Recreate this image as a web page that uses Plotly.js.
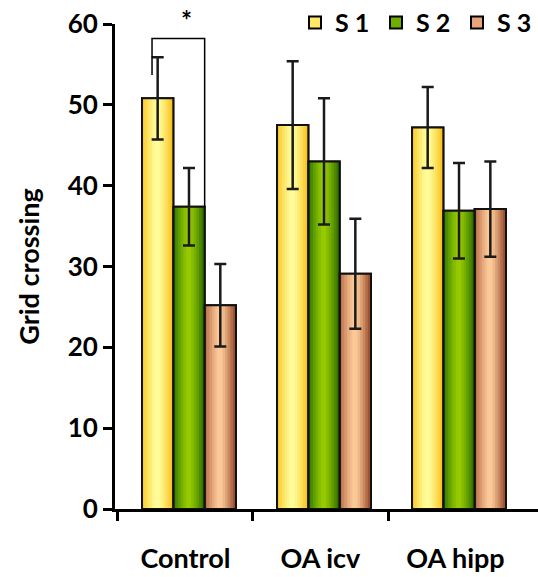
<!DOCTYPE html>
<html>
<head>
<meta charset="utf-8">
<script src="https://cdn.plot.ly/plotly-3.0.1.min.js"></script>
<style>html,body{margin:0;padding:0;background:#fff;}#chart{width:538px;height:577px;}</style>
</head>
<body>
<div id="chart"></div>
<script>
// ---- data ----
const categories = ['Control', 'OA icv', 'OA hipp'];
const seriesNames = ['S 1', 'S 2', 'S 3'];
const s1 = [50.8, 47.5, 47.2];
const s1err = [5.1, 7.9, 5.0];
const s2 = [37.4, 43.0, 36.9];
const s2err = [4.8, 7.8, 5.9];
const s3 = [25.2, 29.1, 37.1];
const s3err = [5.1, 6.8, 5.9];
const yTicks = [0, 10, 20, 30, 40, 50, 60];

// ---- styling ----
const FONT = 'Lato, "Open Sans", sans-serif';
const values = [s1, s2, s3];
const errors = [s1err, s2err, s3err];
// gradient: left edge, center, right edge
const grads = [
  [[250, 196, 30], [255, 255, 160], [250, 188, 20]],
  [[40, 112, 0], [155, 206, 0], [40, 105, 0]],
  [[180, 100, 65], [255, 206, 156], [145, 65, 35]]
];
const legendColors = ['#FFE866', '#6FAE00', '#E8A57A'];
const W = 0.232;
const offsets = [-0.322, -0.09, 0.142];
const N = 12;
const xIdx = categories.map((c, i) => i);

function mix(a, b, t) {
  return 'rgb(' + a.map((v, k) => Math.round(v + (b[k] - v) * t)).join(',') + ')';
}

const traces = [];
for (let s = 0; s < 3; s++) {
  traces.push({
    type: 'bar', x: xIdx, y: values[s], name: seriesNames[s],
    width: W, offset: offsets[s],
    marker: {color: legendColors[s], line: {color: '#000', width: 2}},
    hoverinfo: 'skip'
  });
}
for (let s = 0; s < 3; s++) {
  const [L, C, R] = grads[s];
  for (let i = 0; i < N; i++) {
    const t = (i + 0.5) / N;
    let col;
    if (t < 0.5) col = mix(C, L, Math.pow((0.5 - t) * 2, 1.3));
    else col = mix(C, R, Math.pow((t - 0.5) * 2, 1.3));
    traces.push({
      type: 'bar', x: xIdx, y: values[s], showlegend: false,
      width: W / N, offset: offsets[s] + i * W / N,
      marker: {color: col, line: {color: col, width: 0.8}},
      hoverinfo: 'skip'
    });
  }
}
for (let s = 0; s < 3; s++) {
  traces.push({
    type: 'bar', x: xIdx, y: values[s], showlegend: false,
    width: W, offset: offsets[s],
    marker: {color: 'rgba(0,0,0,0)', line: {color: '#111', width: 2}},
    error_y: {type: 'data', array: errors[s], visible: true, color: '#1a1a1a', thickness: 2.5, width: 6},
    hoverinfo: 'skip'
  });
}

// significance bracket between Control S1 and Control S2
const leftLegX = xIdx[0] + offsets[0] + W * 0.32;
const rightLegX = xIdx[0] + offsets[1] + W;
const bracketTop = 58.2;
const leftLegBottom = 53.7;

const layout = {
  width: 538, height: 577,
  margin: {l: 115, r: 0, t: 24, b: 68, autoexpand: false},
  paper_bgcolor: '#fff', plot_bgcolor: '#fff',
  barmode: 'overlay',
  showlegend: true,
  legend: {
    orientation: 'h', x: 1, y: 1.05, xanchor: 'right', yanchor: 'top',
    font: {family: FONT, size: 25, color: '#000', weight: 'bold'},
    itemwidth: 30, entrywidth: 36, entrywidthmode: 'pixels',
    bgcolor: 'rgba(0,0,0,0)', traceorder: 'normal'
  },
  xaxis: {
    range: [-0.522, 2.611], showgrid: false, zeroline: false,
    tickmode: 'array', tickvals: xIdx, ticktext: categories,
    ticks: '', ticklen: 0, ticklabelstandoff: 24,
    showline: true, linecolor: '#000', linewidth: 3,
    tickfont: {family: FONT, size: 27, color: '#000', weight: 'bold'},
    minor: {tickmode: 'array', tickvals: [-0.5, 0.5, 1.5], ticks: 'outside', ticklen: 9, tickwidth: 3, tickcolor: '#000', showgrid: false}
  },
  yaxis: {
    range: [0, 60], showgrid: false, zeroline: false,
    tickmode: 'array', tickvals: yTicks,
    ticks: 'outside', ticklen: 9, tickwidth: 3, tickcolor: '#000',
    showline: true, linecolor: '#000', linewidth: 3,
    tickfont: {family: FONT, size: 26, color: '#000', weight: 'bold'},
    title: {text: 'Grid crossing', font: {family: FONT, size: 27, color: '#000', weight: 'bold'}, standoff: 21}
  },
  shapes: [{
    type: 'path', xref: 'x', yref: 'y',
    path: 'M' + leftLegX + ',' + leftLegBottom + ' L' + leftLegX + ',' + bracketTop +
          ' L' + rightLegX + ',' + bracketTop + ' L' + rightLegX + ',' + s2[0],
    line: {color: '#000', width: 1.5}, layer: 'above'
  }],
  annotations: [{
    xref: 'x', yref: 'paper', x: 0.011, y: 1.008,
    text: '*', showarrow: false, xanchor: 'center', yanchor: 'middle',
    font: {family: FONT, size: 26, color: '#000', weight: 'bold'}
  }]
};

Plotly.newPlot('chart', traces, layout, {displayModeBar: false, staticPlot: true});
</script>
</body>
</html>
